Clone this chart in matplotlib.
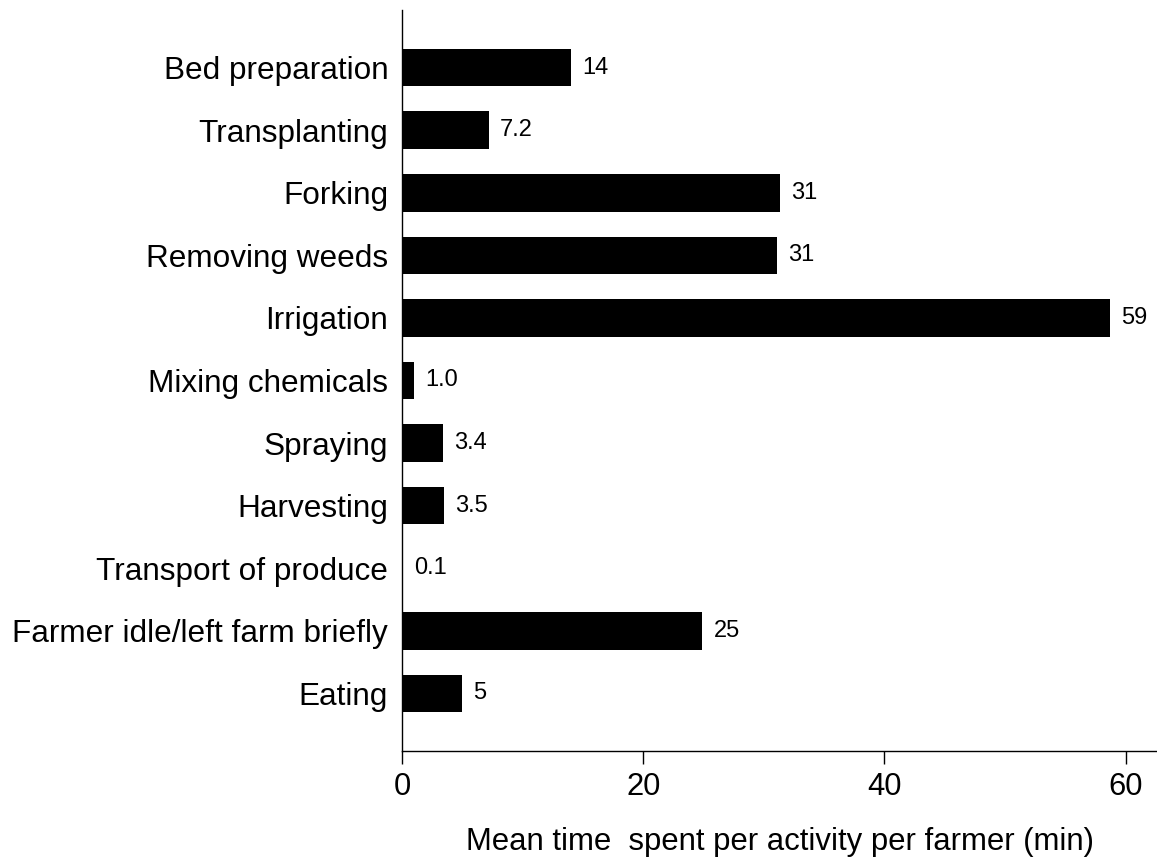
import matplotlib.pyplot as plt
import numpy as np

plt.rcParams['font.family'] = ['Liberation Sans', 'DejaVu Sans']

actividades = ['Bed preparation', 'Transplanting', 'Forking', 'Removing weeds',
               'Irrigation', 'Mixing chemicals', 'Spraying', 'Harvesting',
               'Transport of produce', 'Farmer idle/left farm briefly', 'Eating']
tiempos = [14.0, 7.2, 31.3, 31.1, 58.7, 1.0, 3.4, 3.5, 0.1, 24.9, 5.0]
etiquetas = ['14', '7.2', '31', '31', '59', '1.0', '3.4', '3.5', '0.1', '25', '5']

fig = plt.figure(figsize=(11.57, 8.59), dpi=100)
ax = fig.add_axes([0.3475, 0.1257, 0.6525, 0.8627])

y = np.arange(len(actividades))
barras = ax.barh(y, tiempos, height=0.6, color='black')
ax.bar_label(barras, labels=etiquetas, padding=8, fontsize=17)

ax.set_yticks(y)
ax.set_yticklabels(actividades, fontsize=22.7)
ax.set_ylim(len(actividades) - 1 + 0.92, -0.92)
ax.set_xlim(0, 62.6)
ax.set_xticks([0, 20, 40, 60])
ax.tick_params(axis='x', labelsize=22.3, length=9, width=1, pad=6)
ax.tick_params(axis='y', length=0, pad=10)

ax.spines['top'].set_visible(False)
ax.spines['right'].set_visible(False)
ax.spines['left'].set_linewidth(1)
ax.spines['bottom'].set_linewidth(1)

ax.set_xlabel('Mean time  spent per activity per farmer (min)', fontsize=22.4, labelpad=18)

fig.savefig('out.png', dpi=100)
